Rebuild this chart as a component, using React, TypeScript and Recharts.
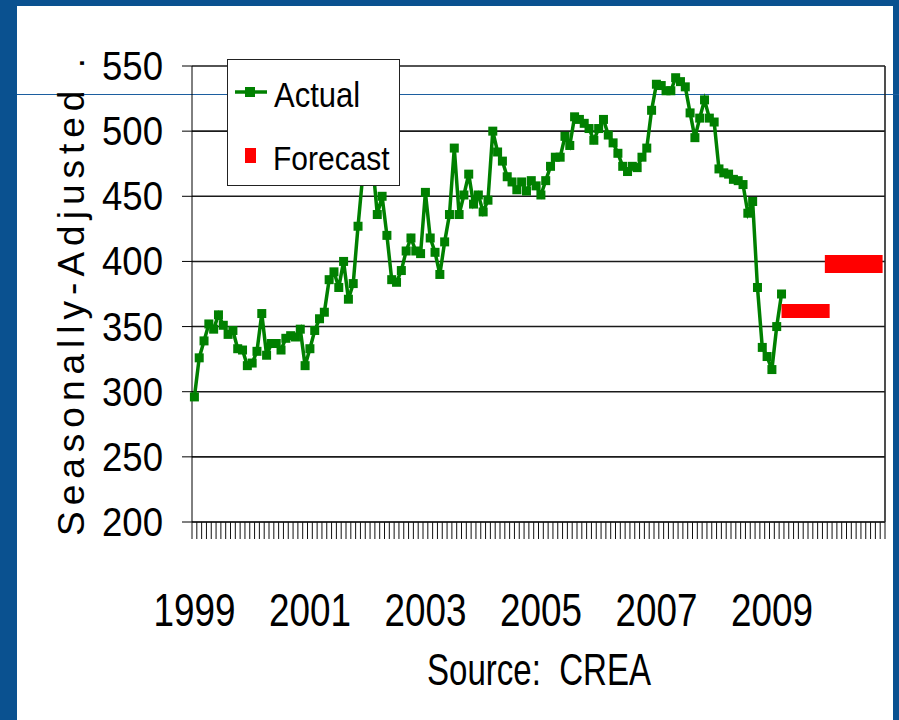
import React from "react";
import { LineChart, Line, XAxis, YAxis, CartesianGrid, Legend } from "recharts";

// monthly, seasonally adjusted, Jan 1999 .. Mar 2009
const actual = [
  296, 326, 339, 352, 348, 359, 351, 344, 347, 333, 332, 320,
  322, 331, 360, 328, 337, 337, 332, 341, 343, 342, 348, 320,
  333, 347, 356, 361, 386, 392, 380, 400, 371, 383, 427, 467,
  485, 477, 436, 450, 420, 386, 384, 393, 408, 418, 408, 406,
  453, 418, 407, 390, 415, 436, 487, 436, 451, 467, 444, 451,
  438, 447, 500, 484, 477, 465, 461, 455, 461, 454, 462, 458,
  451, 462, 473, 480, 480, 496, 489, 511, 509, 506, 502, 493,
  502, 509, 497, 491, 483, 473, 469, 473, 472, 480, 487, 516,
  536, 535, 531, 531, 541, 538, 534, 514, 495, 510, 524, 510,
  507, 471, 468, 467, 463, 462, 459, 437, 446, 380, 334, 327,
  317, 350, 375,
];

const forecast2009 = 362;
const forecast2009Months = [122, 132];
const forecast2010 = 398;
const forecast2010Months = [131, 143];

const yearLabels = ["1999", "2001", "2003", "2005", "2007", "2009"];
const yTicks = [200, 250, 300, 350, 400, 450, 500, 550];
const monthCount = 144;

const inRange = (i: number, r: number[]) => i >= r[0] && i <= r[1];

const data = Array.from({ length: monthCount }, (_, i) => ({
  t: i + 0.5,
  actual: i < actual.length ? actual[i] : null,
  f2009: inRange(i, forecast2009Months) ? forecast2009 : null,
  f2010: inRange(i, forecast2010Months) ? forecast2010 : null,
}));

const monthTicks = Array.from({ length: monthCount + 1 }, (_, i) => i);
const labelTicks = yearLabels.map((_, k) => k * 24 + 0.5);
const xTicks = [...monthTicks, ...labelTicks].sort((a, b) => a - b);

const BLUE = "#0a5190";
const GREEN = "#008000";
const RED = "#ff0000";

const XTick = ({ x, y, payload }: any) => {
  const v = payload.value;
  if (Number.isInteger(v)) {
    return <line x1={x} x2={x} y1={y} y2={y + 17} stroke="#111" strokeWidth={1} />;
  }
  const label = yearLabels[Math.round((v - 0.5) / 24)];
  return (
    <text x={x} y={y + 104} textAnchor="middle" fontSize={46} fill="#000"
      textLength={82} lengthAdjust="spacingAndGlyphs">
      {label}
    </text>
  );
};

const YTick = ({ x, y, payload }: any) => (
  <text x={x} y={y + 14} textAnchor="end" fontSize={40} fill="#000"
    textLength={61} lengthAdjust="spacingAndGlyphs">
    {payload.value}
  </text>
);

const SquareDot = (p: any) => {
  if (p.value == null || p.cy == null) return <g key={`d${p.index}`} />;
  return <rect key={`d${p.index}`} x={p.cx - 4.5} y={p.cy - 4.5} width={9} height={9} fill={GREEN} />;
};

const LegendBox = () => (
  <div style={{ width: 173, height: 127, background: "#fff", border: "1px solid #222", boxSizing: "border-box" }}>
    <svg width={171} height={125} style={{ display: "block" }}>
      <line x1={7} x2={39} y1={32} y2={32} stroke={GREEN} strokeWidth={3.5} />
      <rect x={17} y={27} width={10} height={10} fill={GREEN} />
      <text x={46} y={47 / 1.12} transform="scale(1 1.12)" fontSize={31} fill="#000">Actual</text>
      <rect x={17} y={88} width={11} height={15} fill={RED} />
      <text x={45} y={110 / 1.12} transform="scale(1 1.12)" fontSize={30} fill="#000">Forecast</text>
    </svg>
  </div>
);

export default function App() {
  return (
    <div style={{ position: "absolute", left: 0, top: 0, width: 899, height: 720, background: BLUE, overflow: "hidden", fontFamily: "'Liberation Sans', Arial, sans-serif" }}>
      <div style={{ position: "absolute", left: 17, top: 6, width: 876, height: 714, background: "#fff" }} />
      <div style={{ position: "absolute", left: 17, top: 94, width: 882, height: 1, background: "#1c5ea0" }} />
      <div style={{ position: "absolute", left: 0, top: 0 }}>
        <LineChart width={899} height={720} data={data} margin={{ top: 66, right: 13, bottom: 0, left: 0 }}>
          <CartesianGrid vertical={false} stroke="#1a1a1a" strokeWidth={1.6} />
          <XAxis
            type="number"
            dataKey="t"
            domain={[0, monthCount]}
            ticks={xTicks}
            interval={0}
            tick={XTick}
            tickLine={false}
            tickSize={0}
            tickMargin={0}
            height={198}
            axisLine={{ stroke: "#333", strokeWidth: 2 }}
          />
          <YAxis
            domain={[200, 550]}
            ticks={yTicks}
            interval={0}
            width={192}
            tick={YTick}
            tickSize={10}
            tickMargin={19}
            tickLine={{ stroke: "#000", strokeWidth: 1 }}
            axisLine={{ stroke: "#000", strokeWidth: 1 }}
          />
          <YAxis
            yAxisId="r"
            orientation="right"
            domain={[200, 550]}
            width={1}
            tick={false}
            tickLine={false}
            axisLine={{ stroke: "#222", strokeWidth: 1.6 }}
          />
          <Line
            dataKey="actual"
            type="linear"
            stroke={GREEN}
            strokeWidth={3.5}
            dot={SquareDot}
            activeDot={false}
            isAnimationActive={false}
          />
          <Line
            dataKey="f2009"
            type="linear"
            stroke={RED}
            strokeWidth={14}
            strokeLinecap="butt"
            dot={false}
            activeDot={false}
            isAnimationActive={false}
          />
          <Line
            dataKey="f2010"
            type="linear"
            stroke={RED}
            strokeWidth={18}
            strokeLinecap="butt"
            dot={false}
            activeDot={false}
            isAnimationActive={false}
          />
          <Legend
            layout="vertical"
            align="center"
            verticalAlign="middle"
            content={LegendBox}
            wrapperStyle={{ left: 227, top: 59, width: 173, height: 127 }}
          />
        </LineChart>
      </div>
      <svg width={899} height={720} style={{ position: "absolute", left: 0, top: 0, pointerEvents: "none" }}>
        <text
          transform="translate(84 297) rotate(-90)"
          textAnchor="middle"
          fontSize={37}
          fill="#000"
          textLength={478}
          lengthAdjust="spacing"
          style={{ whiteSpace: "pre" }}
        >
          Seasonally-Adjusted .
        </text>
        <text x={539} y={685} textAnchor="middle" fontSize={45} fill="#000"
          textLength={224} lengthAdjust="spacingAndGlyphs" style={{ whiteSpace: "pre" }}>
          Source:  CREA
        </text>
      </svg>
    </div>
  );
}
